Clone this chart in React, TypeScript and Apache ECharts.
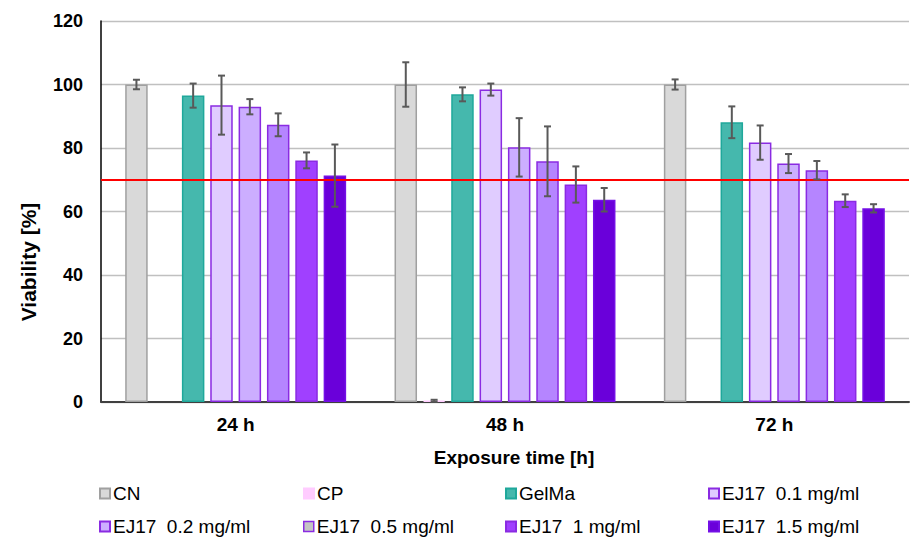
import React, { useEffect, useRef } from "react";
import * as echarts from "echarts";

const categories = ["24 h", "48 h", "72 h"];
const seriesNames = [
  "CN",
  "CP",
  "GelMa",
  "EJ17  0.1 mg/ml",
  "EJ17  0.2 mg/ml",
  "EJ17  0.5 mg/ml",
  "EJ17  1 mg/ml",
  "EJ17  1.5 mg/ml",
];
const cnValues = [100, 100, 100];
const cnErr = [1.5, 7, 1.6];
const cpValues = [null, 0.4, null];
const cpErr = [null, 0.3, null];
const gelmaValues = [96.5, 96.9, 88.1];
const gelmaErr = [3.8, 2.2, 5.0];
const ej01Values = [93.5, 98.4, 81.7];
const ej01Err = [9.3, 1.9, 5.4];
const ej02Values = [93.0, 80.2, 75.1];
const ej02Err = [2.4, 9.2, 3.0];
const ej05Values = [87.3, 75.8, 73.0];
const ej05Err = [3.6, 11.0, 2.9];
const ej1Values = [76.1, 68.5, 63.4];
const ej1Err = [2.5, 5.7, 2.0];
const ej15Values = [71.3, 63.7, 61.0];
const ej15Err = [9.8, 3.7, 1.3];
const threshold = 70;
const yTicks = [0, 20, 40, 60, 80, 100, 120];

const allValues = [cnValues, cpValues, gelmaValues, ej01Values, ej02Values, ej05Values, ej1Values, ej15Values];
const allErr = [cnErr, cpErr, gelmaErr, ej01Err, ej02Err, ej05Err, ej1Err, ej15Err];

const fills = ["#D9D9D9", "#FFCCFF", "#45B8AD", "#E0CCFF", "#CCAEFF", "#B585FF", "#A040FF", "#6A00DA"];
const borders = ["#A0A0A0", "#FFCCFF", "#1FA89B", "#8A2BE2", "#8A2BE2", "#8A2BE2", "#8A2BE2", "#7410E6"];

const FONT = "'Liberation Sans', Arial, sans-serif";
const BAR_W = 22.5;
const GAP_PCT = 26;

export default function App() {
  const ref = useRef<HTMLDivElement>(null);
  useEffect(() => {
    if (!ref.current) return;
    const chart = echarts.init(ref.current, undefined, { renderer: "svg" });
    const step = BAR_W * (1 + GAP_PCT / 100);
    const n = seriesNames.length;

    const errData: any[] = [];
    allValues.forEach((vals, si) => {
      vals.forEach((v, ci) => {
        const e = allErr[si][ci];
        if (v != null && e != null && e > 0) errData.push([ci, si, v - e, v + e]);
      });
    });

    const barSeries: any[] = seriesNames.map((name, i) => ({
      name,
      type: "bar",
      data: allValues[i],
      barWidth: BAR_W,
      barGap: GAP_PCT + "%",
      itemStyle: { color: fills[i], borderColor: borders[i], borderWidth: 1.5 },
      z: 2,
    }));
    barSeries[n - 1].markLine = {
      silent: true,
      symbol: "none",
      label: { show: false },
      lineStyle: { color: "#FF0000", width: 2, type: "solid" },
      data: [{ yAxis: threshold }],
      z: 5,
    };

    const legendCols = [99, 303, 505, 708];
    const legendRows = [484, 517];
    const legends = seriesNames.map((name, i) => ({
      left: legendCols[i % 4],
      top: legendRows[Math.floor(i / 4)],
      padding: 0,
      itemWidth: 10,
      itemHeight: 10,
      itemGap: 0,
      icon: "rect",
      selectedMode: false,
      textStyle: { fontFamily: FONT, fontSize: 19, color: "#000", padding: [0, 0, 0, -2] },
      data: [
        i === 5
          ? { name, itemStyle: { color: "#C4C4C4", borderColor: "#8A2BE2", borderWidth: 1.5 } }
          : { name },
      ],
    }));

    chart.setOption({
      animation: false,
      backgroundColor: "#fff",
      grid: { left: 101, top: 21, width: 808, height: 381 },
      legend: legends,
      xAxis: {
        type: "category",
        data: categories,
        axisLine: { show: true, lineStyle: { color: "#404040", width: 2 } },
        axisTick: { show: false },
        axisLabel: { fontFamily: FONT, fontSize: 19, fontWeight: "bold", color: "#000", margin: 13 },
        splitLine: { show: false },
      },
      yAxis: {
        type: "value",
        min: 0,
        max: 120,
        interval: 20,
        axisLine: { show: true, lineStyle: { color: "#000", width: 1.5 } },
        axisTick: { show: false },
        axisLabel: {
          fontFamily: FONT,
          fontSize: 18,
          fontWeight: "bold",
          color: "#000",
          margin: 18,
          formatter: (v: number) => (yTicks.includes(v) ? String(v) : ""),
        },
        splitLine: { show: true, lineStyle: { color: "#C0C0C0", width: 1.3 } },
      },
      graphic: [
        {
          type: "text",
          x: 28,
          y: 262,
          rotation: Math.PI / 2,
          style: {
            text: "Viability [%]",
            fontFamily: FONT,
            fontSize: 21,
            fontWeight: "bold",
            fill: "#000",
            align: "center",
            verticalAlign: "middle",
          },
        },
        {
          type: "text",
          x: 514,
          y: 457,
          style: {
            text: "Exposure time [h]",
            fontFamily: FONT,
            fontSize: 19,
            fontWeight: "bold",
            fill: "#000",
            align: "center",
            verticalAlign: "middle",
          },
        },
      ],
      series: [
        ...barSeries,
        {
          type: "custom",
          name: "errors",
          z: 10,
          silent: true,
          data: errData,
          renderItem: (params: any, api: any) => {
            const ci = api.value(0);
            const si = api.value(1);
            const lo = api.coord([ci, api.value(2)]);
            const hi = api.coord([ci, api.value(3)]);
            const x = lo[0] + (si - (n - 1) / 2) * step;
            const cap = 3.5;
            const style = { stroke: "#595959", lineWidth: 2 };
            return {
              type: "group",
              children: [
                { type: "line", shape: { x1: x, y1: lo[1], x2: x, y2: hi[1] }, style },
                { type: "line", shape: { x1: x - cap, y1: lo[1], x2: x + cap, y2: lo[1] }, style },
                { type: "line", shape: { x1: x - cap, y1: hi[1], x2: x + cap, y2: hi[1] }, style },
              ],
            };
          },
        },
      ],
    });
    return () => chart.dispose();
  }, []);
  return (
    <div
      ref={ref}
      style={{ position: "fixed", left: 0, top: 0, width: 915, height: 537, background: "#fff" }}
    />
  );
}
